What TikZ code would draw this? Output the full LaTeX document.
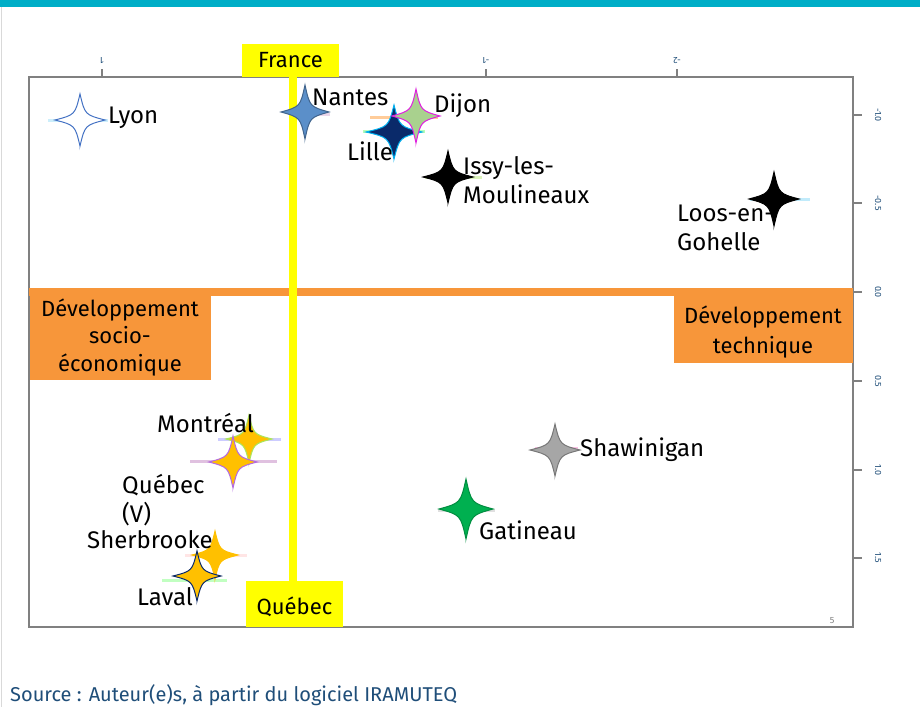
\documentclass[tikz,border=0pt]{standalone}
\usepackage{fontspec}
\setmainfont{Fira Sans}
\definecolor{teal}{RGB}{0,174,199}
\definecolor{frame}{RGB}{128,128,128}
\definecolor{orng}{RGB}{247,150,58}
\definecolor{yel}{RGB}{255,255,0}
\definecolor{srcblue}{RGB}{31,78,121}
\definecolor{lyonblue}{RGB}{68,114,196}
\definecolor{nantesblue}{RGB}{91,143,201}
\definecolor{dijongreen}{RGB}{169,209,142}
\definecolor{magent}{RGB}{224,32,224}
\definecolor{navy}{RGB}{10,42,106}
\definecolor{cyanb}{RGB}{0,176,240}
\definecolor{gold}{RGB}{255,192,0}
\definecolor{lgreen}{RGB}{170,230,90}
\definecolor{purp}{RGB}{179,106,226}
\definecolor{grey}{RGB}{166,166,166}
\definecolor{dgrey}{RGB}{120,120,120}
\definecolor{gat}{RGB}{0,176,80}
\newcommand{\fstar}[7]{%
  \path[fill=#5,draw=#6,line width=1pt,shift={(#1,#2)},xscale=#3,yscale=#4]
    (0,1) .. controls (0.2,0.2) .. (1,0)
    .. controls (0.2,-0.2) .. (0,-1)
    .. controls (-0.2,-0.2) .. (-1,0)
    .. controls (-0.2,0.2) .. cycle;
  \coordinate (#7) at (#1,#2);}
\tikzset{
  lbl/.style={font=\fontsize{24}{29}\selectfont,inner sep=0pt,anchor=base west,align=left},
  boxtxt/.style={font=\fontsize{22}{28}\selectfont,inner sep=0pt,anchor=base,align=center},
  ybox/.style={fill=yel,draw=none},
  obox/.style={fill=orng,draw=none},
  ghost/.style={line width=3pt,opacity=0.4},
  tick/.style={draw=frame,line width=1.2pt},
  ticklbl/.style={font=\fontsize{9}{10}\selectfont,text=srcblue,inner sep=0pt}
}
\begin{document}
\begin{tikzpicture}[x=1pt,y=-1pt]
\useasboundingbox (0,0) rectangle (920,707);
\fill[white] (0,0) rectangle (920,707);
% top bar and left border
\fill[teal] (0,0) rectangle (920,7);
\draw[gray!30,line width=1pt] (1,7) -- (1,707);
% frame
\draw[frame,line width=2pt] (29,77) rectangle (853,627);
% top ticks
\foreach \x/\t [count=\i] in {102/1,486/-1,677/-2}{
  \draw[tick] (\x,77) -- (\x,69);
  \node[ticklbl,rotate=180] (tx\i) at (\x,61) {\t};
}
% right ticks
\foreach \y/\t [count=\i] in {115/-1.0,203/-0.5,292/0.0,381/0.5,470/1.0,558/1.5}{
  \draw[tick] (853,\y) -- (862,\y);
  \node[ticklbl,rotate=-90] (ty\i) at (878,\y) {\t};
}
\node[font=\fontsize{9}{10}\selectfont,text=gray] (pg) at (832,621) {5};
% orange axis
\fill[orng] (29,288) rectangle (853,296);
% yellow axis
\fill[yel] (289,77) rectangle (297,581);
% boxes
\fill[ybox] (242,44) rectangle (339,77);
\node[boxtxt] (france) at (290.5,67) {France};
\fill[ybox] (246,581) rectangle (343,627);
\node[boxtxt] (quebecbox) at (294.5,614) {Québec};
\fill[obox] (30,288) rectangle (211,380);
\node[boxtxt] (dsoc1) at (120,316) {Développement};
\node[boxtxt] (dsoc2) at (120,343) {socio-};
\node[boxtxt] (dsoc3) at (120,371) {économique};
\fill[obox] (674,288) rectangle (853,363);
\node[boxtxt] (dtec1) at (763,323) {Développement};
\node[boxtxt] (dtec2) at (763,353) {technique};
% ghost labels
\draw[ghost,cyan!50] (48,120) -- (108,120);
\draw[ghost,violet!40] (318,114) -- (330,114);
\draw[ghost,orange] (370,117) -- (438,117);
\draw[ghost,green!70] (363,131) -- (425,131);
\draw[ghost,lgreen] (425,177) -- (482,177);
\draw[ghost,cyan!60] (750,199) -- (810,199);
\draw[ghost,blue!50] (218,439) -- (281,439);
\draw[ghost,violet!60] (190,461) -- (277,461);
\draw[ghost,pink] (185,555) -- (247,555);
\draw[ghost,green!60] (162,580) -- (227,580);
\draw[ghost,magenta!60] (535,448) -- (578,448);
\draw[ghost,gray!60] (438,510) -- (495,510);
% stars
\fstar{80}{120}{25}{26}{white}{lyonblue}{sLyon}
\fstar{305}{112}{24}{27}{nantesblue}{nantesblue!70!black}{sNantes}
\fstar{394}{132}{28}{27}{navy}{cyanb}{sLille}
\fstar{416}{116}{24}{27}{dijongreen}{magent}{sDijon}
\fstar{448}{177}{25}{26}{black}{black}{sIssy}
\fstar{774}{199}{25}{27}{black}{black}{sLoos}
\fstar{249}{439}{23}{24}{gold}{lgreen}{sMontreal}
\fstar{233}{462}{24}{26}{gold}{purp}{sQuebec}
\fstar{215}{555}{23}{24}{gold}{gold}{sSherbrooke}
\fstar{197}{576}{24}{25}{gold}{navy}{sLaval}
\fstar{555}{450}{25}{26}{grey}{dgrey}{sShawinigan}
\fstar{466}{509}{27}{30}{gat}{gat!80!black}{sGatineau}
% labels
\node[lbl] (lLyon) at (108,123) {Lyon};
\node[lbl] (lNantes) at (312,105) {Nantes};
\node[lbl] (lDijon) at (434,112) {Dijon};
\node[lbl] (lLille) at (347,160) {Lille};
\node[lbl] (lIssy) at (463,203) {Issy-les-\\Moulineaux};
\node[lbl] (lLoos) at (677,250) {Loos-en-\\Gohelle};
\node[lbl] (lMontreal) at (157,432) {Montréal};
\node[lbl] (lQuebec) at (122,522) {Québec\\(V)};
\node[lbl] (lSherbrooke) at (87,548) {Sherbrooke};
\node[lbl] (lLaval) at (137,605) {Laval};
\node[lbl] (lShawinigan) at (580,456) {Shawinigan};
\node[lbl] (lGatineau) at (479,539) {Gatineau};
% source
\node[font=\fontsize{20}{22}\selectfont,text=srcblue,inner sep=0pt,anchor=base west] (src) at (10,701) {Source : Auteur(e)s, à partir du logiciel IRAMUTEQ};
\end{tikzpicture}
\end{document}
